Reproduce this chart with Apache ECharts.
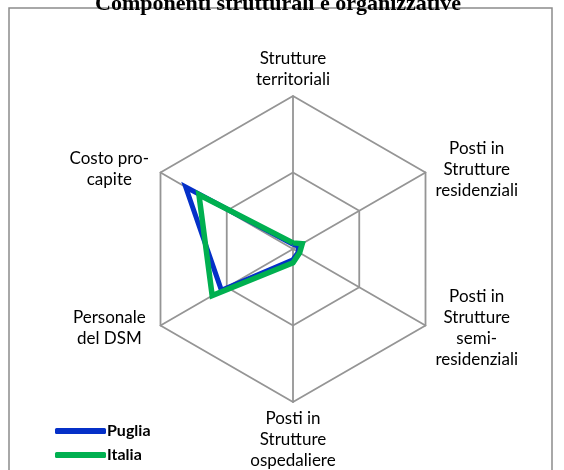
<!DOCTYPE html>
<html>
<head>
<meta charset="utf-8">
<script src="https://cdn.jsdelivr.net/npm/echarts@6/dist/echarts.min.js"></script>
<style>
  html, body { margin: 0; padding: 0; background: #fff; }
  #chart { width: 564px; height: 470px; }
</style>
</head>
<body>
<div id="chart"></div>
<script>
// indicatori, in ordine di disegno (dall'alto, senso antiorario)
const indicatori = [
  "Strutture\nterritoriali",
  "Costo pro-\ncapite",
  "Personale\ndel DSM",
  "Posti in\nStrutture\nospedaliere",
  "Posti in\nStrutture\nsemi-\nresidenziali",
  "Posti in\nStrutture\nresidenziali"
];
const puglia = [0.03, 0.81, 0.54, 0.07, 0.04, 0.04];
const italia = [0.04, 0.71, 0.61, 0.09, 0.05, 0.07];
const valoreMax = 1;

const chart = echarts.init(document.getElementById("chart"));

// ogni riga centrata nel proprio blocco, come nel grafico originale
function nomeCentrato(name) {
  return name.split("\n").map(l => "{c|" + l + "}").join("\n");
}

const option = {
  animation: false,
  title: {
    text: "Componenti strutturali e organizzative",
    left: 273,
    textAlign: "center",
    top: -12,
    textStyle: {
      fontFamily: "Liberation Serif",
      fontWeight: "bold",
      fontSize: 22,
      color: "#000"
    }
  },
  graphic: [
    {
      type: "rect",
      z: -1,
      shape: { x: 9, y: 8, width: 543, height: 480 },
      style: { fill: "none", stroke: "#8c8c8c", lineWidth: 1.5 }
    }
  ],
  legend: {
    orient: "vertical",
    left: 50,
    top: 418,
    itemWidth: 51,
    itemHeight: 6,
    itemGap: 8,
    icon: "roundRect",
    data: ["Puglia", "Italia"],
    textStyle: {
      fontFamily: "Lato",
      fontWeight: "bold",
      fontSize: 16,
      color: "#000",
      padding: [0, 0, 0, -4]
    }
  },
  radar: {
    center: [293, 249],
    radius: 153,
    splitNumber: 2,
    shape: "polygon",
    axisNameGap: 6,
    axisName: {
      formatter: nomeCentrato,
      color: "#000",
      rich: {
        c: {
          width: 92,
          align: "center",
          fontFamily: "Lato",
          fontSize: 17,
          lineHeight: 21,
          color: "#000"
        }
      }
    },
    axisLine: { lineStyle: { color: "#959595", width: 1.8 } },
    splitLine: { lineStyle: { color: "#959595", width: 1.8 } },
    splitArea: { show: false },
    indicator: indicatori.map(n => ({ name: n, min: 0, max: valoreMax }))
  },
  series: [
    {
      type: "radar",
      symbol: "none",
      data: [
        {
          name: "Puglia",
          value: puglia,
          lineStyle: { color: "#0530c8", width: 5, join: "miter" },
          itemStyle: { color: "#0530c8" }
        },
        {
          name: "Italia",
          value: italia,
          lineStyle: { color: "#00b050", width: 5.5, join: "miter" },
          itemStyle: { color: "#00b050" }
        }
      ]
    }
  ]
};

chart.setOption(option);
</script>
</body>
</html>
